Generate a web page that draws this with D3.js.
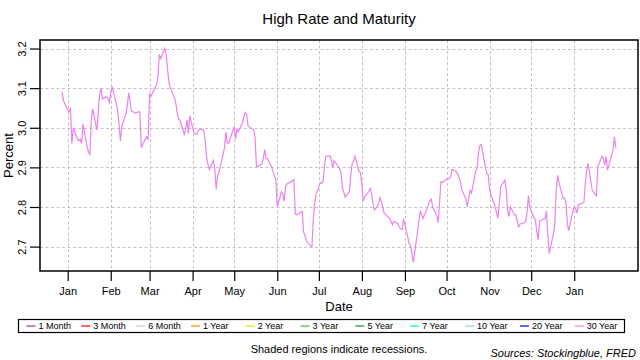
<!DOCTYPE html>
<html><head><meta charset="utf-8">
<script src="https://cdn.jsdelivr.net/npm/d3@7"></script>
<style>
body{margin:0;background:#fff}
svg{display:block}
text{font-family:"Liberation Sans",Arial,sans-serif;fill:#000}
</style>
</head><body>
<svg id="chart" width="640" height="360"></svg>
<script>
const chartTitle = "High Rate and Maturity";
const xTitle = "Date";
const yTitle = "Percent";
const seriesName = "30 Year";
const seriesColor = "#ee82ee";
const firstDay = "2017-12-28";
const lastDay = "2019-01-31";
// business-day values of the 30 Year rate
const values = [
3.09,3.068,
3.045,3.04,3.05,2.96,3.00,
2.972,2.967,2.971,2.96,3.01,
2.952,2.939,2.933,3.021,3.048,
2.994,3.037,3.083,3.10,3.073,
3.078,3.073,3.064,3.089,3.104,
3.061,3.044,3.008,2.967,3.004,
3.036,3.058,3.088,3.065,3.042,
3.037,3.039,3.04,3.04,2.95,
2.972,2.977,2.97,3.085,3.08,
3.102,3.108,3.129,3.185,3.175,
3.20,3.185,3.146,3.113,3.10,
3.075,3.06,3.035,3.021,3.019,
2.983,2.997,3.02,2.985,3.03,
2.987,2.985,2.983,2.992,2.997,
2.994,2.971,2.929,2.908,2.895,
2.918,2.895,2.845,2.878,2.888,
2.933,2.95,2.989,2.962,2.961,
2.993,3.003,2.972,2.997,2.99,
3.014,3.029,3.039,3.033,3.004,
2.997,2.996,2.975,2.903,2.902,
2.909,2.924,2.945,2.922,2.922,
2.901,2.888,2.878,2.87,2.80,
2.838,2.833,2.814,2.852,2.858,
2.864,2.866,2.87,2.782,2.78,
2.787,2.789,2.737,2.728,2.714,
2.702,2.70,2.77,2.81,2.833,
2.861,2.86,2.864,2.903,2.928,
2.929,2.918,2.898,2.917,2.913,
2.896,2.885,2.849,2.837,2.825,
2.839,2.881,2.91,2.914,2.928,
2.889,2.887,2.852,2.815,2.825,
2.839,2.847,2.831,2.808,2.792,
2.806,2.824,2.814,2.80,2.785,
2.774,2.771,2.764,2.755,2.764,
2.758,2.748,2.745,2.743,2.77,
2.725,2.708,2.703,2.683,2.66,
2.735,2.764,2.789,2.781,2.771,
2.796,2.807,2.816,2.82,2.80,
2.778,2.76,2.814,2.864,2.862,
2.87,2.871,2.872,2.877,2.895,
2.89,2.883,2.875,2.864,2.843,
2.82,2.80,2.822,2.842,2.835,
2.891,2.897,2.935,2.955,2.958,
2.90,2.885,2.882,2.843,2.831,
2.801,2.785,2.772,2.808,2.852,
2.868,2.845,2.79,2.776,2.80,
2.78,2.78,2.762,2.75,2.757,
2.76,2.764,2.785,2.828,2.80,
2.772,2.768,2.739,2.717,2.764,
2.77,2.77,2.79,2.727,2.683,
2.732,2.756,2.84,2.88,2.862,
2.822,2.822,2.814,2.76,2.74,
2.789,2.80,2.795,2.785,2.806,
2.81,2.812,2.86,2.895,2.91,
2.841,2.837,2.833,2.828,2.902,
2.928,2.923,2.906,2.927,2.893,
2.931,2.945,2.977,2.948
];
const yTicks = [2.7, 2.8, 2.9, 3.0, 3.1, 3.2];
const monthTicks = ["2018-01-01","2018-02-01","2018-03-01","2018-04-01","2018-05-01","2018-06-01",
  "2018-07-01","2018-08-01","2018-09-01","2018-10-01","2018-11-01","2018-12-01","2019-01-01"];
const legendLabels = ["1 Month","3 Month","6 Month","1 Year","2 Year","3 Year","5 Year","7 Year","10 Year","20 Year","30 Year"];
const legendColors = ["#9932cc","#ff0000","#ffb6c1","#ff8c00","#ffd700","#32cd32","#228b22","#00e5ee","#87ceeb","#0000cd","#ee82ee"];
const footNote = "Shaded regions indicate recessions.";
const sourceNote = "Sources: Stockingblue, FRED";

const parse = d3.utcParse("%Y-%m-%d");
const businessDays = d3.utcDay.range(parse(firstDay), d3.utcDay.offset(parse(lastDay), 1))
  .filter(d => d.getUTCDay() !== 0 && d.getUTCDay() !== 6);
const data = values.map((v, i) => ({date: businessDays[i], value: v}));

const svg = d3.select("#chart");
const L = 40, R = 638, T = 40, B = 271;

const ext = d3.extent(data, d => d.date);
const span = ext[1] - ext[0];
const x = d3.scaleUtc()
  .domain([new Date(+ext[0] - span * 0.04), new Date(+ext[1] + span * 0.04)])
  .range([L, R]);
const yExt = d3.extent(values);
const ySpan = yExt[1] - yExt[0];
const y = d3.scaleLinear()
  .domain([yExt[0] - ySpan * 0.04, yExt[1] + ySpan * 0.04])
  .range([B, T]);

const ticksX = monthTicks.map(parse);

// grid
const grid = svg.append("g").attr("stroke", "#c4c4c4").attr("stroke-width", 1).attr("stroke-dasharray", "3,2.5");
grid.selectAll("line.h").data(yTicks).join("line")
  .attr("x1", L).attr("x2", R)
  .attr("y1", d => Math.round(y(d)) + 0.5).attr("y2", d => Math.round(y(d)) + 0.5);
grid.selectAll("line.v").data(ticksX).join("line")
  .attr("y1", T).attr("y2", B)
  .attr("x1", d => Math.round(x(d)) + 0.5).attr("x2", d => Math.round(x(d)) + 0.5);

// series line
svg.append("path").datum(data)
  .attr("fill", "none").attr("stroke", seriesColor).attr("stroke-width", 1.2)
  .attr("d", d3.line().x(d => x(d.date)).y(d => y(d.value)));

// box
svg.append("rect").attr("x", L).attr("y", T).attr("width", R - L).attr("height", B - T)
  .attr("fill", "none").attr("stroke", "#000").attr("stroke-width", 1.5);

// y axis
const yAxis = svg.append("g").attr("transform", `translate(${L},0)`)
  .call(d3.axisLeft(y).tickValues(yTicks).tickSize(10).tickFormat(d3.format(".1f")));
yAxis.select(".domain").remove();
yAxis.selectAll("line").attr("stroke", "#000").attr("stroke-width", 1.2);
yAxis.selectAll("text")
  .attr("x", null).attr("dy", null).attr("text-anchor", "middle")
  .attr("transform", "translate(-14.5,0) rotate(-90)")
  .style("font-size", "11px").style("font-family", "'Liberation Sans',Arial,sans-serif");

// x axis
const xAxis = svg.append("g").attr("transform", `translate(0,${B})`)
  .call(d3.axisBottom(x).tickValues(ticksX).tickSize(10).tickPadding(6).tickFormat(d3.utcFormat("%b")));
xAxis.select(".domain").remove();
xAxis.selectAll("line").attr("stroke", "#000").attr("stroke-width", 1.2);
xAxis.selectAll("text").style("font-size", "11px").style("font-family", "'Liberation Sans',Arial,sans-serif");

// titles
const cx = (L + R) / 2;
svg.append("text").attr("x", cx).attr("y", 24).attr("text-anchor", "middle")
  .style("font-size", "15px").text(chartTitle);
svg.append("text").attr("x", cx).attr("y", 311).attr("text-anchor", "middle")
  .style("font-size", "13px").text(xTitle);
svg.append("text").attr("transform", `translate(13,${(T + B) / 2}) rotate(-90)`).attr("text-anchor", "middle")
  .style("font-size", "13px").text(yTitle);

// legend
svg.append("rect").attr("x", 18.5).attr("y", 319.5).attr("width", 606).attr("height", 13)
  .attr("fill", "#fff").attr("stroke", "#000").attr("stroke-width", 1.2);
const lx = d3.scalePoint().domain(legendLabels).range([26.5, 574.7]);
const items = svg.append("g").selectAll("g").data(legendLabels).join("g")
  .attr("transform", d => `translate(${lx(d)},326)`);
items.append("line").attr("x1", 0).attr("x2", 9).attr("y1", 0).attr("y2", 0)
  .attr("stroke", (d, i) => legendColors[i]).attr("stroke-width", 1.2);
items.append("text").attr("x", 12).attr("y", 3.3).style("font-size", "9px").text(d => d);

// notes
svg.append("text").attr("x", cx).attr("y", 353).attr("text-anchor", "middle")
  .style("font-size", "11px").text(footNote);
svg.append("text").attr("x", 636).attr("y", 357).attr("text-anchor", "end")
  .style("font-size", "11px").style("font-style", "italic").text(sourceNote);
</script>
</body></html>
